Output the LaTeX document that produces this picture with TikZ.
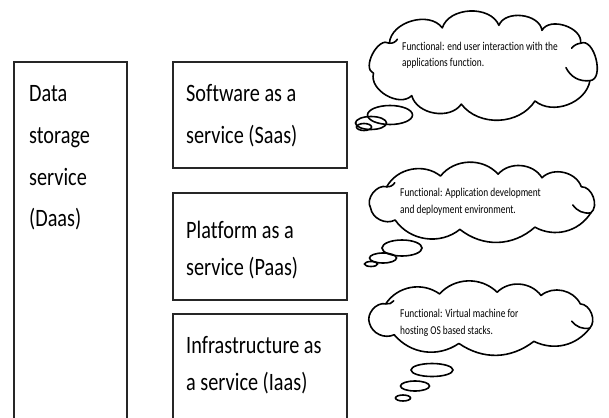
\documentclass[tikz,border=0pt]{standalone}
\usepackage{fontspec}
\usetikzlibrary{shapes.geometric}
\newfontfamily\boxfont[FakeStretch=0.81,Ligatures=NoCommon]{Carlito}
\newfontfamily\cloudfont[FakeStretch=0.78,Ligatures=NoCommon]{Carlito}
% puffy outline: name, centre, x radius, y radius of the puff joints,
% list of joint angle / puff bend pairs (the first joint sits at 23 degrees)
\newcommand\puffcloud[5]{%
  \begin{scope}[shift={#2}]
    \coordinate (#1) at (0,0);
    \draw[cloudline] (23:#3 and #4) coordinate (#1-j23)
      foreach \a/\b in {#5}
      { to[bend left=\b] (\a:#3 and #4) coordinate (#1-j\a) };
  \end{scope}}
\begin{document}
\begin{tikzpicture}[x=1pt,y=-1pt,
  frame/.style={draw=black!85, line width=1.1pt, inner sep=0pt, outer sep=0pt, anchor=north west},
  boxtext/.style={anchor=base west, inner sep=0pt, font=\boxfont\fontsize{25}{30}\selectfont},
  cloudtext/.style={anchor=base west, inner sep=0pt, font=\cloudfont\fontsize{12}{14}\selectfont},
  cloudline/.style={draw, line width=1.6pt, line join=round, line cap=round},
  bubble/.style={ellipse, draw, line width=1.6pt, inner sep=0pt}]
\useasboundingbox (0,0) rectangle (609,417);
\fill[white] (0,0) rectangle (609,417);

% service layer frames
\node[frame, minimum width=113pt, minimum height=368pt] (daas) at (14,62) {};
\node[frame, minimum width=174pt, minimum height=106pt] (saas) at (173,62) {};
\node[frame, minimum width=174pt, minimum height=107pt] (paas) at (173,193) {};
\node[frame, minimum width=174pt, minimum height=116pt] (iaas) at (173,314) {};

% frame labels
\node[boxtext] (daas-1) at (29,102) {Data};
\node[boxtext] (daas-2) at (29,143) {storage};
\node[boxtext] (daas-3) at (29,185) {service};
\node[boxtext] (daas-4) at (29,226) {(Daas)};
\node[boxtext] (saas-1) at (186,102) {Software as a};
\node[boxtext] (saas-2) at (186,143) {service (Saas)};
\node[boxtext] (paas-1) at (186,238) {Platform as a};
\node[boxtext] (paas-2) at (186,275) {service (Paas)};
\node[boxtext] (iaas-1) at (186,353) {Infrastructure as};
\node[boxtext] (iaas-2) at (186,390) {a service (Iaas)};

% thought clouds
\puffcloud{c1}{(485,65)}{114}{40}
  {64/60,102/55,130/65,168/75,213/95,248/70,277/70,300/75,327/80,383/100}
\puffcloud{c2}{(484,202)}{116}{28}
  {64/43,102/40,140/47,168/55,213/68,248/50,277/50,300/54,327/58,383/72}
\puffcloud{c3}{(483,318)}{116}{26}
  {64/39,102/36,140/42,168/50,213/62,248/46,277/46,300/49,327/52,383/65}

% inner strokes where puffs overlap
\draw[cloudline] (c1-j23) to[bend left=35] ++(-24,-13);
\draw[cloudline] (c1-j213) to[bend right=30] ++(8,-4);
\draw[cloudline] (c1-j327) to[bend right=20] ++(-9,5);
\draw[cloudline] (c2-j23) to[bend left=30] ++(-18,-8);
\draw[cloudline] (c2-j213) to[bend right=30] ++(8,-4);
\draw[cloudline] (c3-j23) to[bend left=30] ++(-18,-7);
\draw[cloudline] (c3-j213) to[bend right=30] ++(8,-3);

% thought bubbles
\node[bubble, minimum width=45pt, minimum height=19pt] (c1-b1) at (390,115) {};
\node[bubble, minimum width=31pt, minimum height=13pt] (c1-b2) at (371,123) {};
\node[bubble, minimum width=15pt, minimum height=7pt]  (c1-b3) at (364,127) {};
\node[bubble, minimum width=40pt, minimum height=16pt] (c2-b1) at (402,248) {};
\node[bubble, minimum width=27pt, minimum height=10pt] (c2-b2) at (383,258) {};
\node[bubble, minimum width=13pt, minimum height=5pt]  (c2-b3) at (371,264) {};
\node[bubble, minimum width=42pt, minimum height=13pt] (c3-b1) at (432,370) {};
\node[bubble, minimum width=29pt, minimum height=10pt] (c3-b2) at (415,386) {};
\node[bubble, minimum width=15pt, minimum height=6pt]  (c3-b3) at (403,398) {};

% cloud captions
\node[cloudtext] (c1-1) at (402,51) {Functional: end user interaction with the};
\node[cloudtext] (c1-2) at (402,67) {applications function.};
\node[cloudtext] (c2-1) at (400,196) {Functional: Application development};
\node[cloudtext] (c2-2) at (400,213) {and deployment environment.};
\node[cloudtext] (c3-1) at (400,317) {Functional: Virtual machine for};
\node[cloudtext] (c3-2) at (400,334) {hosting OS based stacks.};
\end{tikzpicture}
\end{document}
